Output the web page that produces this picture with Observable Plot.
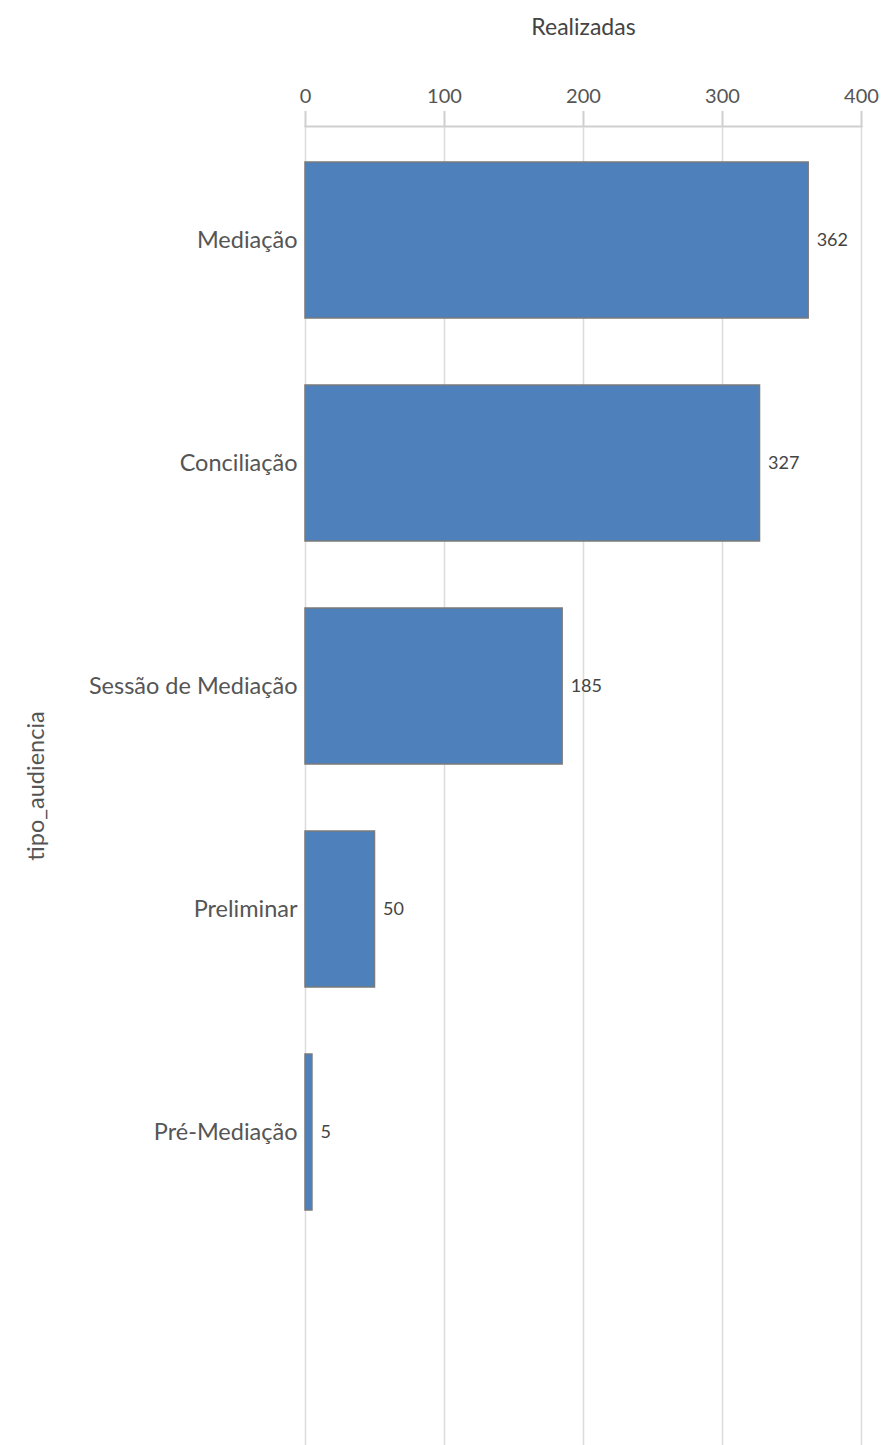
<!DOCTYPE html>
<html>
<head>
<meta charset="utf-8">
<script src="https://cdn.jsdelivr.net/npm/d3@7"></script>
<script src="https://cdn.jsdelivr.net/npm/@observablehq/plot@0.6"></script>
<style>
  html, body { margin: 0; padding: 0; background: #fff; }
  #chart svg { display: block; }
</style>
</head>
<body>
<div id="chart"></div>
<script>
const categories = ["Mediação", "Conciliação", "Sessão de Mediação", "Preliminar", "Pré-Mediação"];
const values = [362, 327, 185, 50, 5];
const xTicks = [0, 100, 200, 300, 400];
const xLabel = "Realizadas";
const yLabel = "tipo_audiencia";

const data = categories.map((c, i) => ({tipo_audiencia: c, Realizadas: values[i]}));

const font = "Lato, 'Open Sans', sans-serif";

const chart = Plot.plot({
  width: 885,
  height: 1445,
  marginTop: 126,
  marginLeft: 305,
  marginRight: 24,
  marginBottom: 0,
  style: {fontFamily: font, fontSize: "20px", background: "#fff", color: "#444"},
  x: {domain: [0, 400], range: [305, 861]},
  y: {domain: categories, range: [94, 1279], padding: 0.3},
  marks: [
    Plot.gridX(xTicks, {stroke: "#dcdcdc", strokeOpacity: 1, strokeWidth: 1.5}),
    Plot.frame({anchor: "top", stroke: "#cfcfcf", strokeWidth: 2}),
    Plot.axisX(xTicks, {
      anchor: "top", tickSize: 16, tickPadding: 8, stroke: "#cfcfcf", strokeWidth: 2,
      fontSize: 20, fill: "#555", label: null, tickFormat: d => String(d)
    }),
    Plot.text([xLabel], {
      frameAnchor: "top", lineAnchor: "middle", text: d => d, dy: -99, fontSize: 23, fill: "#444"
    }),
    Plot.axisY({
      anchor: "left", tickSize: 0, tickPadding: 8, fontSize: 23.5, fill: "#555",
      label: yLabel, labelAnchor: "center", labelOffset: 278, labelArrow: "none"
    }),
    Plot.barX(data, {
      y: "tipo_audiencia", x: "Realizadas",
      fill: "#4e80bc", stroke: "#7a7a7a", strokeWidth: 1.5
    }),
    Plot.text(data, {
      y: "tipo_audiencia", x: "Realizadas", text: d => String(d.Realizadas),
      textAnchor: "start", dx: 8, fontSize: 18, fill: "#444"
    })
  ]
});

document.getElementById("chart").appendChild(chart);
</script>
</body>
</html>
